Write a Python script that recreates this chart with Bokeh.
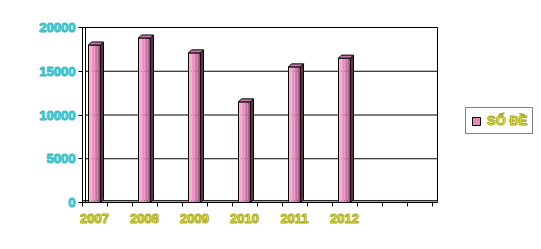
from bokeh.plotting import figure
from bokeh.layouts import row
from bokeh.models import Range1d, FixedTicker, Legend, LegendItem
from bokeh.embed import file_html
from bokeh.resources import INLINE

# ---- data ----
years = ["2007", "2008", "2009", "2010", "2011", "2012"]
values = [18000, 18800, 17100, 11500, 15500, 16500]
n_slots = 7
y_ticks = [0, 5000, 10000, 15000, 20000]
y_tick_labels = ["0", "5000", "10000", "15000", "20000"]
series_name = "SỐ ĐỀ"

# ---- styling constants ----
FONT = "Liberation Sans"
BAR_W = 0.24
DX = 0.06     # 3D depth along x (data units)
DY = 343      # 3D depth along y (data units)
X0 = -0.24
X1 = X0 + n_slots + 0.1
grad = ["#F8B4DA", "#F5A6D1", "#F199C9", "#E98CC0", "#DA7FB3", "#C571A1", "#AD638E", "#93557A"]
side_col = "#5E3049"
top_col = "#C47CA5"
cyan_edge = "#48B4C0"
yellow_edge = "#A8A830"

p = figure(width=441, height=249, output_backend="svg", toolbar_location=None,
           x_range=Range1d(X0, X1), y_range=Range1d(0, 20000),
           min_border_left=82, min_border_right=4, min_border_top=27, min_border_bottom=47)
p.background_fill_color = "white"
p.border_fill_color = "white"
p.outline_line_color = "black"
p.outline_line_width = 1
p.xgrid.visible = False
p.ygrid.visible = False

# floor
p.quad(left=[X0], right=[X1], bottom=[0], top=[230], fill_color="#9C9C9C",
       line_color="black", line_width=0.8)
# back wall line and gridlines
p.segment(x0=[X0 + DX], y0=[0], x1=[X0 + DX], y1=[y_ticks[-1]], line_color="black", line_width=1)
p.segment(x0=[X0 + DX] * (len(y_ticks) - 1), y0=y_ticks[1:], x1=[X1] * (len(y_ticks) - 1),
          y1=y_ticks[1:], line_color="black", line_width=1)

# bars
xs = list(range(len(values)))
n = len(grad)
sw = BAR_W / n
for k, c in enumerate(grad):
    p.quad(left=[x - BAR_W / 2 + k * sw for x in xs], right=[x - BAR_W / 2 + (k + 1) * sw for x in xs],
           bottom=[0] * len(xs), top=values, fill_color=c, line_color=None)
p.quad(left=[x - BAR_W / 2 for x in xs], right=[x + BAR_W / 2 for x in xs],
       bottom=[0] * len(xs), top=values, fill_alpha=0, line_color="black", line_width=1)
side_xs = [[x + BAR_W / 2, x + BAR_W / 2 + DX, x + BAR_W / 2 + DX, x + BAR_W / 2] for x in xs]
side_ys = [[0, DY, v + DY, v] for v in values]
p.patches(xs=side_xs, ys=side_ys, fill_color=side_col, line_color="black", line_width=1)
top_xs = [[x - BAR_W / 2, x - BAR_W / 2 + DX, x + BAR_W / 2 + DX, x + BAR_W / 2] for x in xs]
top_ys = [[v, v + DY, v + DY, v] for v in values]
p.patches(xs=top_xs, ys=top_ys, fill_color=top_col, line_color="black", line_width=1)

# axes
p.xaxis.ticker = FixedTicker(ticks=xs, minor_ticks=[X0 + 0.5 * k for k in range(2 * n_slots + 1)])
p.xaxis.major_label_overrides = {i: y for i, y in enumerate(years)}
p.xaxis.bounds = (X0, X0 + n_slots)
p.xaxis.major_tick_out = 0
p.xaxis.major_tick_in = 0
p.xaxis.minor_tick_out = 4
p.xaxis.minor_tick_in = 0
p.xaxis.axis_line_color = "black"
p.xaxis.minor_tick_line_color = "black"
p.xaxis.major_label_standoff = 7
p.xaxis.major_label_text_color = "#FFFF00"
p.xaxis.major_label_text_outline_color = yellow_edge
p.xaxis.major_label_text_font = FONT
p.xaxis.major_label_text_font_style = "bold"
p.xaxis.major_label_text_font_size = "13px"

p.yaxis.ticker = FixedTicker(ticks=y_ticks, minor_ticks=[])
p.yaxis.major_label_overrides = {t: s for t, s in zip(y_ticks, y_tick_labels)}
p.yaxis.major_tick_out = 4
p.yaxis.major_tick_in = 0
p.yaxis.axis_line_color = "black"
p.yaxis.major_tick_line_color = "black"
p.yaxis.major_label_standoff = 3
p.yaxis.major_label_text_color = "#00FFFF"
p.yaxis.major_label_text_outline_color = cyan_edge
p.yaxis.major_label_text_font = FONT
p.yaxis.major_label_text_font_style = "bold"
p.yaxis.major_label_text_font_size = "13px"

# legend panel (separate figure to the right)
q = figure(width=100, height=249, output_backend="svg", toolbar_location=None,
           x_range=Range1d(0, 100), y_range=Range1d(0, 249),
           min_border=0, min_border_left=0, min_border_right=0, min_border_top=0, min_border_bottom=0)
q.axis.visible = False
q.grid.visible = False
q.outline_line_color = None
q.background_fill_color = "white"
q.border_fill_color = "white"
dummy = q.quad(left=[-50], right=[-40], top=[-40], bottom=[-50], fill_color="#E48BBE",
               line_color="black")
legend = Legend(items=[LegendItem(label=series_name, renderers=[dummy])],
                location=(24, 68), border_line_color="black", border_line_width=1,
                background_fill_color="white", background_fill_alpha=1,
                label_text_color="#FFFF00", label_text_outline_color=yellow_edge,
                label_text_font=FONT, label_text_font_style="bold",
                label_text_font_size="13px", label_height=13, glyph_width=10, glyph_height=10,
                padding=5, spacing=0, label_standoff=6, margin=0)
q.add_layout(legend, "center")

layout = row(p, q, spacing=0)
open("out.html", "w").write(file_html(layout, INLINE))
